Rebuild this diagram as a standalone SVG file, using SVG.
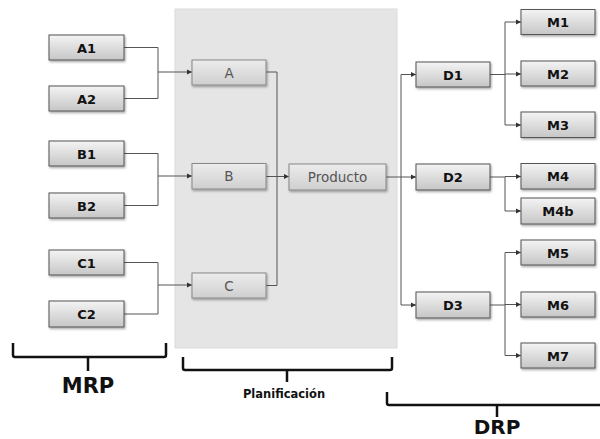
<svg xmlns="http://www.w3.org/2000/svg" width="600" height="439" viewBox="0 0 600 439">
<defs>
<linearGradient id="g" x1="0" y1="0" x2="0" y2="1">
<stop offset="0" stop-color="#f4f4f4"/><stop offset="1" stop-color="#c6c6c6"/>
</linearGradient>
<linearGradient id="gi" x1="0" y1="0" x2="0" y2="1">
<stop offset="0" stop-color="#ececec"/><stop offset="1" stop-color="#cfcfcf"/>
</linearGradient>
<filter id="sh" x="-10%" y="-20%" width="130%" height="160%">
<feDropShadow dx="1" dy="1.5" stdDeviation="1" flood-color="#000" flood-opacity="0.35"/>
</filter>
<marker id="ar" markerWidth="6" markerHeight="6" refX="5" refY="3" orient="auto" markerUnits="userSpaceOnUse">
<path d="M0,0.5 L5,3 L0,5.5 z" fill="#333"/>
</marker>
</defs>
<style>
.b rect{fill:url(#g);stroke:#555;stroke-width:1;filter:url(#sh)}
.b text{font-family:"DejaVu Sans","Liberation Sans",sans-serif;font-weight:bold;font-size:13px;fill:#111;text-anchor:middle}
.i rect{fill:url(#gi);stroke:#888;stroke-width:1;filter:url(#sh)}
.i text{font-family:"DejaVu Sans","Liberation Sans",sans-serif;font-size:13.5px;fill:#555;text-anchor:middle}
.c path{fill:none;stroke:#555;stroke-width:1}
.c .a{marker-end:url(#ar)}
.br{fill:none;stroke:#111;stroke-width:2.5}
.lbl{font-family:"DejaVu Sans","Liberation Sans",sans-serif;font-weight:bold;fill:#111;text-anchor:middle}
</style>
<rect x="175" y="9" width="222" height="339" fill="#e5e5e5" stroke="#dcdcdc"/>
<g class="c">
<path d="M124,47.5 H158 V98.5 H124"/>
<path class="a" d="M158,72 H192"/>
<path d="M124,153.5 H158 V205.5 H124"/>
<path class="a" d="M158,176 H192"/>
<path d="M124,262.5 H158 V314 H124"/>
<path class="a" d="M158,285 H192"/>
<path d="M266,72 H277 V285.5 H266"/>
<path class="a" d="M266,176.5 H289"/>
<path d="M386,177 H401"/>
<path d="M401,74.5 V305"/>
<path class="a" d="M401,74.5 H416"/>
<path class="a" d="M401,177 H416"/>
<path class="a" d="M401,305 H416"/>
<path d="M490,74.5 H505"/>
<path d="M505,22 V125"/>
<path class="a" d="M505,22 H521"/>
<path class="a" d="M505,74 H521"/>
<path class="a" d="M505,125 H521"/>
<path d="M490,177 H505 V211"/>
<path class="a" d="M505,176.5 H521"/>
<path class="a" d="M505,211 H521"/>
<path d="M490,305 H505"/>
<path d="M505,252.5 V355.5"/>
<path class="a" d="M505,252.5 H521"/>
<path class="a" d="M505,304.5 H521"/>
<path class="a" d="M505,355.5 H521"/>
</g>
<g id="A1" class="b"><rect x="49" y="35" width="75" height="25"/><text x="86.5" y="52.5">A1</text></g>
<g id="A2" class="b"><rect x="49" y="86" width="75" height="25"/><text x="86.5" y="103.5">A2</text></g>
<g id="B1" class="b"><rect x="49" y="141" width="75" height="25"/><text x="86.5" y="158.5">B1</text></g>
<g id="B2" class="b"><rect x="49" y="193" width="75" height="25"/><text x="86.5" y="210.5">B2</text></g>
<g id="C1" class="b"><rect x="49" y="250" width="75" height="25"/><text x="86.5" y="267.5">C1</text></g>
<g id="C2" class="b"><rect x="49" y="301" width="75" height="26"/><text x="86.5" y="319">C2</text></g>
<g id="A" class="i"><rect x="192" y="60" width="74" height="25"/><text x="229" y="77.5">A</text></g>
<g id="B" class="i"><rect x="192" y="163.5" width="74" height="25.5"/><text x="229" y="181">B</text></g>
<g id="C" class="i"><rect x="192" y="273" width="74" height="25"/><text x="229" y="290.5">C</text></g>
<g id="Producto" class="i"><rect x="289" y="164" width="97" height="26"/><text x="337.5" y="181.5">Producto</text></g>
<g id="D1" class="b"><rect x="416" y="62" width="74" height="25"/><text x="453" y="79.5">D1</text></g>
<g id="D2" class="b"><rect x="416" y="164" width="74" height="26"/><text x="453" y="181.5">D2</text></g>
<g id="D3" class="b"><rect x="416" y="292" width="74" height="26"/><text x="453" y="309.5">D3</text></g>
<g id="M1" class="b"><rect x="521" y="9.5" width="74" height="25"/><text x="558" y="27">M1</text></g>
<g id="M2" class="b"><rect x="521" y="61" width="74" height="25"/><text x="558" y="78.5">M2</text></g>
<g id="M3" class="b"><rect x="521" y="112" width="74" height="25.5"/><text x="558" y="130">M3</text></g>
<g id="M4" class="b"><rect x="521" y="163.5" width="74" height="25.5"/><text x="558" y="181">M4</text></g>
<g id="M4b" class="b"><rect x="521" y="198" width="74" height="26"/><text x="558" y="216">M4b</text></g>
<g id="M5" class="b"><rect x="521" y="240" width="74" height="25"/><text x="558" y="257.5">M5</text></g>
<g id="M6" class="b"><rect x="521" y="292" width="74" height="25"/><text x="558" y="309.5">M6</text></g>
<g id="M7" class="b"><rect x="521" y="343" width="74" height="25"/><text x="558" y="360.5">M7</text></g>
<g id="brace-mrp">
<path class="br" d="M13,343 V355 Q13,357 15,357 H164 Q166,357 166,355 V343 M88,357 V371"/>
<text class="lbl" x="88" y="393" font-size="21">MRP</text>
</g>
<g id="brace-plan">
<path class="br" d="M183,357 V368 Q183,370 185,370 H390 Q392,370 392,368 V357 M287,370 V382"/>
<text class="lbl" x="284" y="398" font-size="11.5">Planificación</text>
</g>
<g id="brace-drp">
<path class="br" d="M387,392 V403 Q387,405 389,405 H602 M497,405 V417"/>
<text class="lbl" x="497" y="434" font-size="20">DRP</text>
</g>
</svg>
